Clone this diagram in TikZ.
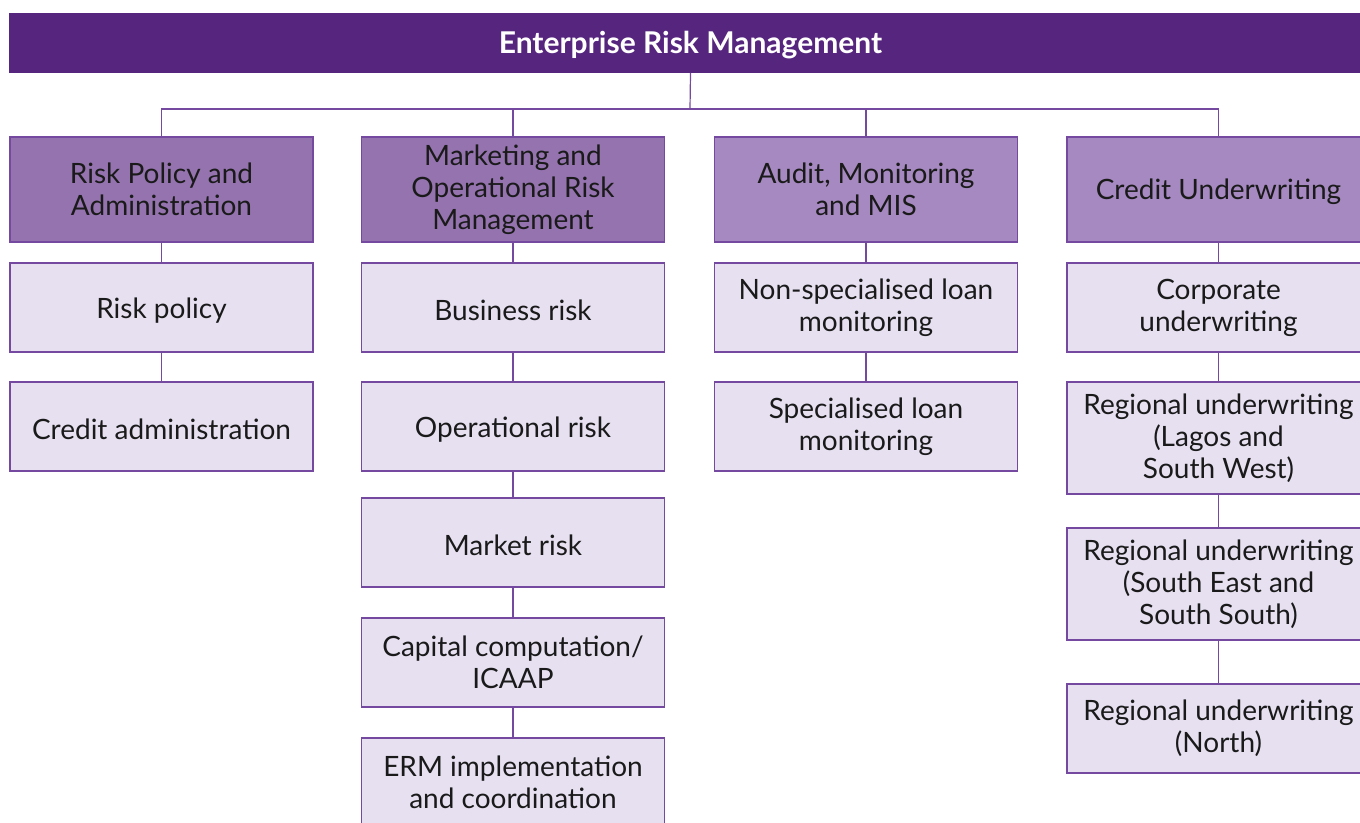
\documentclass[tikz,border=0pt]{standalone}
\usepackage{fontspec}
\setmainfont{Lato}
\usetikzlibrary{positioning}

\definecolor{ermbar}{HTML}{56267F}
\definecolor{ermline}{HTML}{7549A0}
\definecolor{ermdark}{HTML}{9473AF}
\definecolor{ermmid}{HTML}{A589C0}
\definecolor{ermlight}{HTML}{E7E0F1}
\definecolor{ermtext}{HTML}{1A1A1A}

\begin{document}
\begin{tikzpicture}[
    x=0.5pt, y=-0.5pt,
    every node/.style={font=\fontsize{14}{16}\selectfont, align=center, inner sep=0pt, outer sep=0pt, text=ermtext,
                       execute at begin node={\rule{0pt}{13pt}}},
    head/.style={draw=ermline, line width=0.6pt, minimum width=151.5pt, minimum height=52.5pt},
    unit/.style={draw=ermline, line width=0.6pt, fill=ermlight, minimum width=151.5pt, minimum height=44.5pt},
    tall/.style={unit, minimum height=56pt},
    link/.style={draw=ermline, line width=0.6pt}
]
    \clip (0,0) rectangle (1360,823);

    % Top bar
    \node[fill=ermbar, minimum width=681.5pt, minimum height=30pt, text=white,
          font=\fontsize{15}{16}\selectfont\bfseries] (ERM) at (690.5,43) {Enterprise Risk Management};

    % Department heads
    \node[head, fill=ermdark] (RPA) at (161.5,189.5) {Risk Policy and\\Administration};
    \node[head, fill=ermdark] (MOR) at (513,189.5) {Marketing and\\Operational Risk\\Management};
    \node[head, fill=ermmid] (AMM) at (866,189.5) {Audit, Monitoring\\and MIS};
    \node[head, fill=ermmid] (CRU) at (1218.5,189.5) {Credit Underwriting};

    % Risk policy column
    \node[unit, below=10.5pt of RPA] (RPOL) {Risk policy};
    \node[unit, below=15pt of RPOL] (CADM) {Credit administration};

    % Marketing and operational risk column
    \node[unit, below=10.5pt of MOR] (BUS) {Business risk};
    \node[unit, below=15pt of BUS] (OPR) {Operational risk};
    \node[unit, below=13.5pt of OPR] (MKT) {Market risk};
    \node[unit, below=15.5pt of MKT] (CAP) {Capital computation/\\ICAAP};
    \node[unit, below=15.5pt of CAP] (ERMI) {ERM implementation\\and coordination};

    % Audit column
    \node[unit, below=10.5pt of AMM] (NSL) {Non-specialised loan\\monitoring};
    \node[unit, below=15pt of NSL] (SPL) {Specialised loan\\monitoring};

    % Underwriting column
    \node[unit, below=10.5pt of CRU] (CORP) {Corporate\\underwriting};
    \node[tall, below=15pt of CORP] (RLSW) {Regional underwriting\\(Lagos and\\South West)};
    \node[tall, below=17pt of RLSW] (RSES) {Regional underwriting\\(South East and\\South South)};
    \node[unit, below=22pt of RSES] (RNTH) {Regional underwriting\\(North)};

    % Connectors
    \coordinate (bus) at (690,109);
    \draw[link] (ERM.south) -- (bus);
    \draw[link] (RPA.north) |- (CRU.north |- bus) -- (CRU.north);
    \draw[link] (MOR.north) -- (MOR.north |- bus);
    \draw[link] (AMM.north) -- (AMM.north |- bus);

    \draw[link] (RPA) -- (RPOL) (RPOL) -- (CADM);
    \draw[link] (MOR) -- (BUS) (BUS) -- (OPR) (OPR) -- (MKT) (MKT) -- (CAP) (CAP) -- (ERMI);
    \draw[link] (AMM) -- (NSL) (NSL) -- (SPL);
    \draw[link] (CRU) -- (CORP) (CORP) -- (RLSW) (RLSW) -- (RSES) (RSES) -- (RNTH);

\end{tikzpicture}
\end{document}
